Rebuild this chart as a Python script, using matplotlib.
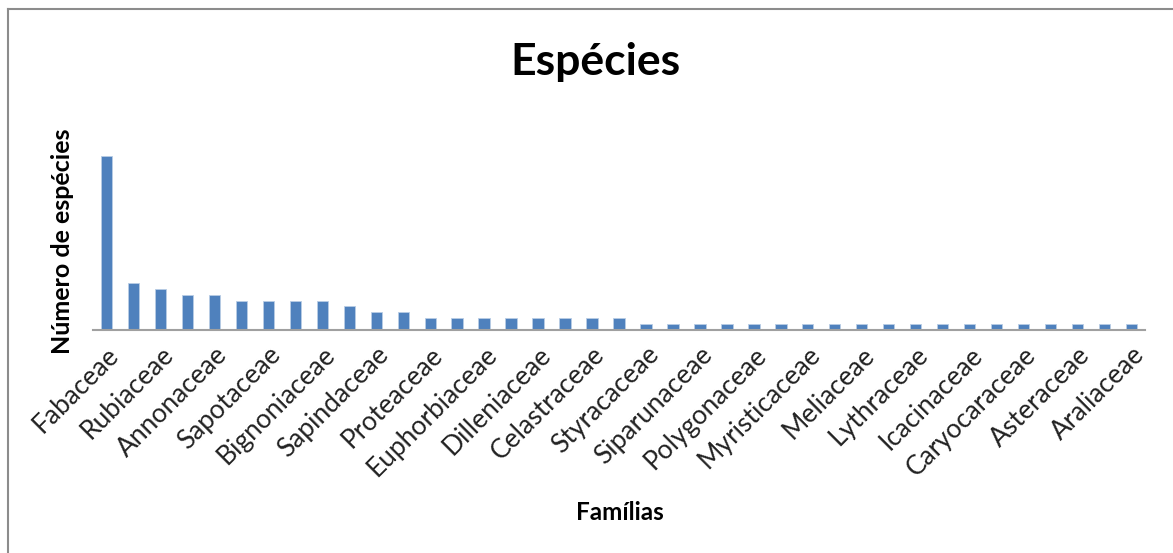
import matplotlib.pyplot as plt
import numpy as np

# species count per family (39 families, only every other name is printed on the axis)
familias = ['Fabaceae', 'Rubiaceae', 'Annonaceae', 'Sapotaceae', 'Bignoniaceae',
            'Sapindaceae', 'Proteaceae', 'Euphorbiaceae', 'Dilleniaceae', 'Celastraceae',
            'Styracaceae', 'Siparunaceae', 'Polygonaceae', 'Myristicaceae', 'Meliaceae',
            'Lythraceae', 'Icacinaceae', 'Caryocaraceae', 'Asteraceae', 'Araliaceae']
especies = [30, 8, 7, 6, 6, 5, 5, 5, 5, 4, 3, 3, 2,
            2, 2, 2, 2, 2, 2, 2, 1, 1, 1, 1, 1, 1,
            1, 1, 1, 1, 1, 1, 1, 1, 1, 1, 1, 1, 1]

plt.rcParams['font.family'] = ['Lato', 'DejaVu Sans']

W, H = 1173, 553
fig = plt.figure(figsize=(W / 100, H / 100), dpi=100)
ax = fig.add_axes([93 / W, 1 - 329.5 / H, (1145 - 93) / W, (329.5 - 127) / H])

x = np.arange(len(especies))
ax.bar(x, especies, width=0.42, color='#4f81bd', edgecolor='#b9cde5', linewidth=0.6)
ax.set_xlim(-0.5, len(especies) - 0.5)
ax.set_ylim(0, 35)

ax.set_xticks(x[::2])
ax.set_xticklabels(familias, rotation=45, ha='right', rotation_mode='anchor',
                   fontsize=19, color='#222222')
ax.tick_params(axis='x', length=0, pad=9)
ax.set_yticks([])
for s in ['top', 'right', 'left']:
    ax.spines[s].set_visible(False)
ax.spines['bottom'].set_color('#a0a0a0')
ax.spines['bottom'].set_linewidth(1.5)

fig.text(595 / W, 1 - 62 / H, 'Espécies', ha='center', va='center',
         fontsize=32, fontweight='bold')
fig.text(62 / W, 1 - 241 / H, 'Número de espécies', ha='center', va='center',
         rotation=90, fontsize=18, fontweight='bold')
fig.text(620 / W, 1 - 512 / H, 'Famílias', ha='center', va='center',
         fontsize=17.5, fontweight='bold')

# chart frame (only top and left edges show in the crop)
fig.add_artist(plt.Line2D([8 / W, 8 / W], [0, 1 - 9 / H], color='#8c8c8c', lw=1.5))
fig.add_artist(plt.Line2D([8 / W, 1], [1 - 9 / H, 1 - 9 / H], color='#8c8c8c', lw=1.5))

fig.savefig('out.png', dpi=100)
